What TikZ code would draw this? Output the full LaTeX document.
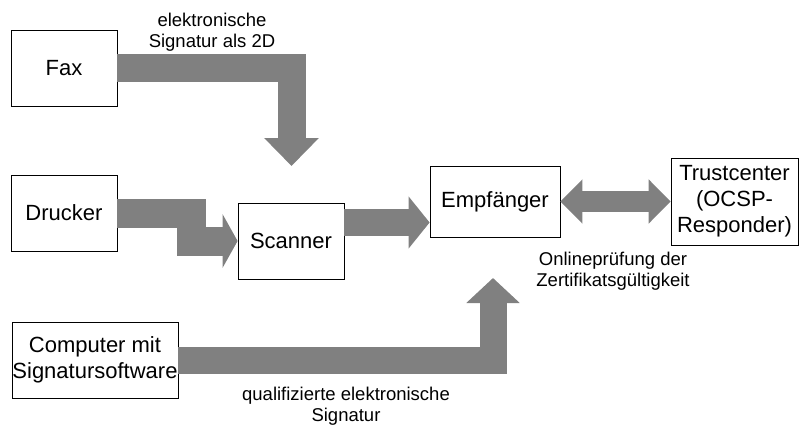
\documentclass[tikz,border=0pt]{standalone}
\usepackage{fontspec}
\setmainfont{Liberation Sans}
\usetikzlibrary{arrows.meta}
\definecolor{arrgray}{RGB}{128,128,128}
\begin{document}
\begin{tikzpicture}[x=1pt,y=-1pt,
  box/.style={draw=black, line width=0.8pt, inner sep=0pt, align=center, font=\fontsize{22}{26}\selectfont},
  lbl/.style={inner sep=0pt, align=center, font=\fontsize{18.5}{21}\selectfont},
  flow/.style={draw=arrgray, line width=#1, line join=miter},
]
\useasboundingbox (0,0) rectangle (799,425);
% boxes
\node[box, minimum width=106pt, minimum height=76pt] (fax) at (64,68) {Fax};
\node[box, minimum width=106pt, minimum height=76pt] (drucker) at (64,213) {Drucker};
\node[box, minimum width=106pt, minimum height=76pt] (scanner) at (291,241) {Scanner};
\node[box, minimum width=130pt, minimum height=71pt] (empf) at (495,201.5) {Empfänger};
\node[box, minimum width=127pt, minimum height=87pt] (trust) at (734.5,201.5) {Trustcenter\\(OCSP-\\Responder)};
\node[box, minimum width=166pt, minimum height=76pt] (comp) at (95,360) {Computer mit\\Signatursoftware};
% free ends
\coordinate (ftip) at (291.5,166);
\coordinate (ctip) at (493,278);
\coordinate (s1) at ([yshift=18.5pt]scanner.east);
% connectors
\draw[flow=28pt, -{Triangle[length=28pt,width=53pt]}] (fax.east) -| (ftip);
\draw[flow=29pt, -{Triangle[length=15pt,width=53pt]}] (drucker.east) -- ++(74,0) |- (scanner.west);
\draw[flow=27pt, -{Triangle[length=21pt,width=51pt]}] (s1) -- (s1 -| empf.west);
\draw[flow=21pt, {Triangle[length=22pt,width=43pt]}-{Triangle[length=22pt,width=43pt]}] (empf.east) -- (trust.west);
\draw[flow=27pt, -{Triangle[length=25pt,width=52pt]}] (comp.east) -| (ctip);
% labels
\node[lbl] (l1) at (212,32.7) {elektronische\\Signatur als 2D};
\node[lbl] (l2) at (613,271.7) {Onlineprüfung der\\Zertifikatsgültigkeit};
\node[lbl] (l3) at (346,406.2) {qualifizierte elektronische\\Signatur};
\end{tikzpicture}
\end{document}
